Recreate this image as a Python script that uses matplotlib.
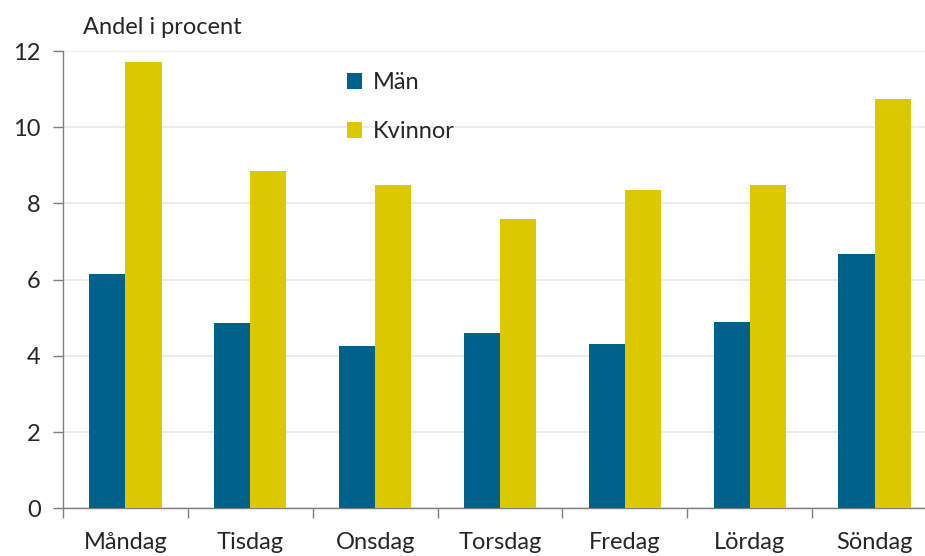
import numpy as np
import matplotlib
matplotlib.use("Agg")
import matplotlib.pyplot as plt

# ── data ─────────────────────────────────────────────────────────────
days = ["Måndag", "Tisdag", "Onsdag", "Torsdag", "Fredag", "Lördag", "Söndag"]
man = [6.15, 4.86, 4.27, 4.61, 4.30, 4.90, 6.66]
kvinnor = [11.71, 8.85, 8.48, 7.59, 8.35, 8.48, 10.74]
yticks = [0, 2, 4, 6, 8, 10, 12]

BLUE = "#00628a"
YELLOW = "#dcc800"
GRID = "#e8e8e8"
AXIS = "#7f7f7f"
TEXT = "#262626"

plt.rcParams["font.family"] = ["Lato", "DejaVu Sans"]
FS = 17

fig = plt.figure(figsize=(9.25, 5.56), dpi=100)
# axes runs slightly past the right edge, like the cropped original
ax = fig.add_axes([63 / 925, 47.7 / 556, (937 - 63) / 925, (508.3 - 51) / 556])

x = np.arange(len(days))
w = 0.29
b1 = ax.bar(x - w / 2, man, w, color=BLUE, label="Män", zorder=3)
b2 = ax.bar(x + w / 2, kvinnor, w, color=YELLOW, label="Kvinnor", zorder=3)

ax.set_xlim(-0.5, len(days) - 0.5)
ax.set_ylim(0, 12)
ax.set_yticks(yticks)
ax.yaxis.grid(True, color=GRID, lw=1.2, zorder=0)

ax.set_xticks(x)
ax.set_xticklabels(days)
ax.set_xticks(np.arange(len(days) + 1) - 0.5, minor=True)
ax.tick_params(axis="x", which="major", length=0, pad=17, labelsize=FS, labelcolor=TEXT)
ax.tick_params(axis="x", which="minor", length=7, width=1, color=AXIS, direction="out")
ax.tick_params(axis="y", length=7, width=1, color=AXIS, pad=9, labelsize=FS, labelcolor=TEXT)

for s in ["top", "right"]:
    ax.spines[s].set_visible(False)
for s in ["left", "bottom"]:
    ax.spines[s].set_color(AXIS)
    ax.spines[s].set_linewidth(1)

fig.text(83 / 925, 1 - 27 / 556, "Andel i procent", fontsize=FS, color=TEXT,
         ha="left", va="center")

leg = ax.legend(handles=[b1, b2], loc="upper left",
                bbox_to_anchor=((347 - 63) / (937 - 63), 1 - (72 - 51) / (508.3 - 51)),
                frameon=False, fontsize=FS, handlelength=0.65, handleheight=0.65,
                handletextpad=0.45, labelspacing=1.2, borderpad=0, borderaxespad=0)
for t in leg.get_texts():
    t.set_color(TEXT)

fig.savefig("out.png", dpi=100)
